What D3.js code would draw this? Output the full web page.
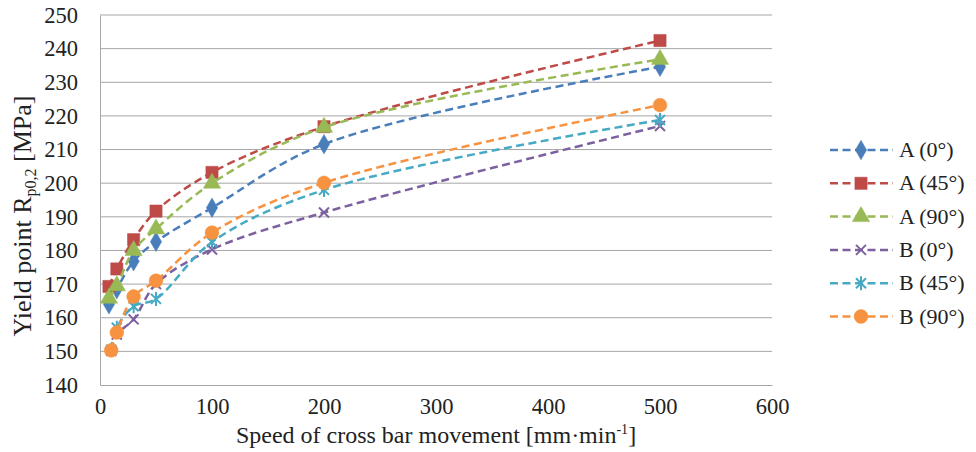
<!DOCTYPE html>
<html>
<head>
<meta charset="utf-8">
<script src="https://cdn.jsdelivr.net/npm/d3@7"></script>
<style>
  body { margin: 0; background: #fff; }
  svg text { font-family: "Liberation Serif", "Times New Roman", serif !important; fill: #222; }
</style>
</head>
<body>
<div id="chart"></div>
<script>
// ---- data ----
const speedA = [8, 15, 30, 50, 100, 200, 500]
const speedB = [10, 15, 30, 50, 100, 200, 500]

const a0 = [164.0, 168.5, 176.8, 182.6, 192.7, 211.6, 234.6]
const a45 = [169.3, 174.5, 183.2, 191.7, 203.2, 216.8, 242.4]
const a90 = [165.8, 169.5, 180.0, 186.4, 200.0, 216.6, 236.8]
const b0 = [150.2, 155.0, 159.5, 170.0, 180.3, 191.3, 217.0]
const b45 = [150.5, 157.0, 163.4, 165.6, 182.5, 198.0, 218.8]
const b90 = [150.3, 155.6, 166.3, 171.0, 185.3, 200.1, 223.2]

const seriesNames = ["A (0°)", "A (45°)", "A (90°)", "B (0°)", "B (45°)", "B (90°)"]
const xTicks = [0, 100, 200, 300, 400, 500, 600]
const yTicks = [140, 150, 160, 170, 180, 190, 200, 210, 220, 230, 240, 250]

const series = [
  { name: seriesNames[0], x: speedA, y: a0, color: "#4a7ebb", marker: "diamond" },
  { name: seriesNames[1], x: speedA, y: a45, color: "#be4b48", marker: "square" },
  { name: seriesNames[2], x: speedA, y: a90, color: "#98b954", marker: "triangle" },
  { name: seriesNames[3], x: speedB, y: b0, color: "#7d60a0", marker: "cross" },
  { name: seriesNames[4], x: speedB, y: b45, color: "#46aac5", marker: "star" },
  { name: seriesNames[5], x: speedB, y: b90, color: "#f69240", marker: "circle" },
]

// ---- layout ----
const W = 976, H = 452
const plot = { left: 100, right: 772, top: 15, bottom: 385 }
const serif = "'Liberation Serif', 'Times New Roman', serif"

const svg = d3.select("#chart").append("svg")
  .attr("width", W).attr("height", H)
  .style("font-family", serif)

const x = d3.scaleLinear().domain([0, 600]).range([plot.left, plot.right])
const y = d3.scaleLinear().domain([140, 250]).range([plot.bottom, plot.top])

// gridlines
svg.append("g")
  .selectAll("line")
  .data(yTicks.filter(d => d > 140))
  .join("line")
  .attr("x1", plot.left).attr("x2", plot.right)
  .attr("y1", d => y(d)).attr("y2", d => y(d))
  .attr("stroke", "#a6a6a6").attr("stroke-width", 1)

// axes
const yAxis = svg.append("g")
  .attr("transform", `translate(${plot.left},0)`)
  .call(d3.axisLeft(y).tickValues(yTicks).tickSize(0).tickPadding(22))
  .attr("font-family", serif)
yAxis.select(".domain").attr("stroke", "#a6a6a6")
yAxis.selectAll(".tick text").attr("font-size", 22.5).style("font-family", serif)

const xAxis = svg.append("g")
  .attr("transform", `translate(0,${plot.bottom})`)
  .call(d3.axisBottom(x).tickValues(xTicks).tickSize(0).tickPadding(13))
  .attr("font-family", serif)
xAxis.select(".domain").attr("stroke", "#a6a6a6")
xAxis.selectAll(".tick text").attr("font-size", 22.5).style("font-family", serif)

// axis titles
const xt = svg.append("text")
  .attr("x", (plot.left + plot.right) / 2).attr("y", 443)
  .attr("text-anchor", "middle").attr("font-size", 24)
xt.append("tspan").text("Speed of cross bar movement [mm·min")
xt.append("tspan").attr("font-size", 14).attr("dy", -9).text("-1")
xt.append("tspan").attr("dy", 9).text("]")

const yt = svg.append("text")
  .attr("transform", "translate(31,216) rotate(-90)")
  .attr("text-anchor", "middle").attr("font-size", 26)
yt.append("tspan").text("Yield point R")
yt.append("tspan").attr("font-size", 16).attr("dy", 5).text("p0,2")
yt.append("tspan").attr("dy", -5).text(" [MPa]")

// markers
const markerPath = {
  diamond: d3.symbol(d3.symbolDiamond, 110)(),
  square: d3.symbol(d3.symbolSquare, 150)(),
  triangle: d3.symbol(d3.symbolTriangle, 130)(),
  circle: d3.symbol(d3.symbolCircle, 150)(),
  cross: "M-5,-5L5,5M-5,5L5,-5",
  star: "M-5,-5L5,5M-5,5L5,-5M0,-7L0,7",
}

function drawMarker(g, s) {
  const stroked = s.marker === "cross" || s.marker === "star"
  g.append("path")
    .attr("d", markerPath[s.marker])
    .attr("fill", stroked ? "none" : s.color)
    .attr("stroke", s.color)
    .attr("stroke-width", stroked ? 2 : 0.5)
}

const line = d3.line()
  .x(d => x(d[0]))
  .y(d => y(d[1]))
  .curve(d3.curveCatmullRom.alpha(0.5))

series.forEach(s => {
  const pts = s.x.map((v, i) => [v, s.y[i]])
  const g = svg.append("g")
  g.append("path")
    .attr("d", line(pts))
    .attr("fill", "none")
    .attr("stroke", s.color)
    .attr("stroke-width", 2.5)
    .attr("stroke-dasharray", "8,4.5")
  g.selectAll("g.m")
    .data(pts)
    .join("g")
    .attr("class", "m")
    .attr("transform", d => `translate(${x(d[0])},${y(d[1])})`)
    .each(function () { drawMarker(d3.select(this), s) })
})

// legend
const legend = svg.append("g").attr("transform", "translate(830,150)")
series.forEach((s, i) => {
  const row = legend.append("g").attr("transform", `translate(0,${i * 33.3})`)
  row.append("line")
    .attr("x1", 0).attr("x2", 63)
    .attr("stroke", s.color).attr("stroke-width", 2.5)
    .attr("stroke-dasharray", "8,4.5")
  drawMarker(row.append("g").attr("transform", "translate(31,0)"), s)
  row.append("text")
    .attr("x", 69).attr("y", 7)
    .attr("font-size", 22)
    .style("font-family", serif)
    .text(s.name)
})
</script>
</body>
</html>
